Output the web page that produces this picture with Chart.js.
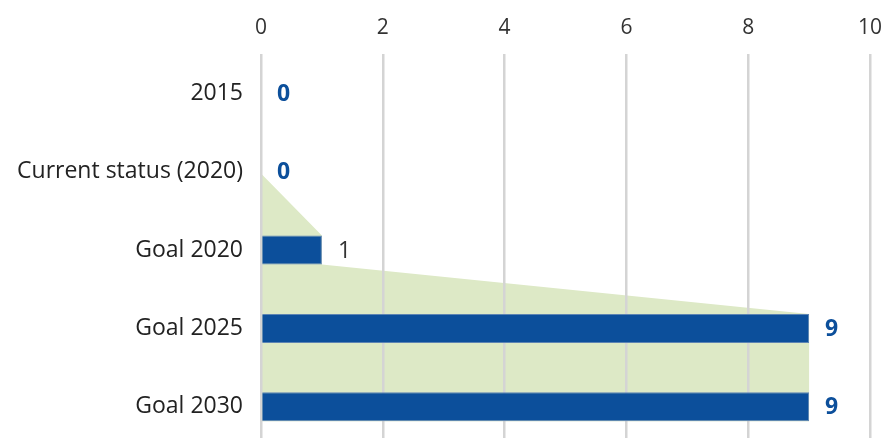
<!DOCTYPE html>
<html>
<head>
<meta charset="utf-8">
<script src="https://cdn.jsdelivr.net/npm/chart.js@4/dist/chart.umd.min.js"></script>
<style>
  html, body { margin: 0; padding: 0; background: #fff; overflow: hidden; }
</style>
</head>
<body>
<canvas id="goalChart" width="881" height="446"></canvas>
<script>
const categories = ['2015', 'Current status (2020)', 'Goal 2020', 'Goal 2025', 'Goal 2030'];
const values = [0, 0, 1, 9, 9];
const xTicks = [0, 2, 4, 6, 8, 10];

const BLUE = '#0c4f9b';
const GREEN = '#dde9c6';
const FONT = "'Open Sans', 'Noto Sans', sans-serif";

// green band joining the bars, drawn under the grid
const funnel = {
  id: 'funnel',
  beforeDraw(chart) {
    const bars = chart.getDatasetMeta(0).data;
    const x0 = chart.scales.x.getPixelForValue(0);
    const ctx = chart.ctx;
    ctx.save();
    ctx.fillStyle = GREEN;
    ctx.beginPath();
    ctx.moveTo(x0, bars[1].y + 2);
    for (let i = 2; i < bars.length; i++) {
      const b = bars[i];
      ctx.lineTo(b.x, b.y - b.height / 2);
      ctx.lineTo(b.x, b.y + b.height / 2);
    }
    const last = bars[bars.length - 1];
    ctx.lineTo(x0, last.y + last.height / 2);
    ctx.closePath();
    ctx.fill();
    ctx.restore();
  },
};

const valueLabels = {
  id: 'valueLabels',
  afterDatasetsDraw(chart) {
    const ctx = chart.ctx;
    const data = chart.data.datasets[0].data;
    ctx.save();
    ctx.textAlign = 'left';
    ctx.textBaseline = 'middle';
    chart.getDatasetMeta(0).data.forEach((bar, i) => {
      const plain = data[i] === 1;
      ctx.font = (plain ? '400 ' : '700 ') + '23px ' + FONT;
      ctx.fillStyle = plain ? '#333333' : BLUE;
      ctx.fillText(String(data[i]), bar.x + 16, bar.y + 1);
    });
    ctx.restore();
  },
};

new Chart(document.getElementById('goalChart'), {
  type: 'bar',
  data: {
    labels: categories,
    datasets: [
      {
        data: values,
        backgroundColor: BLUE,
        borderColor: '#5d84b3',
        borderWidth: 1,
        categoryPercentage: 1,
        barPercentage: 0.37,
      },
    ],
  },
  options: {
    indexAxis: 'y',
    responsive: false,
    animation: false,
    layout: { padding: 0 },
    plugins: { legend: { display: false }, tooltip: { enabled: false } },
    scales: {
      x: {
        position: 'top',
        min: 0,
        max: 10,
        afterBuildTicks: (scale) => {
          scale.ticks = xTicks.map((v) => ({ value: v }));
        },
        afterFit: (scale) => {
          scale.height = 54;
          scale.paddingLeft = 0;
          scale.paddingRight = 11;
        },
        ticks: {
          color: '#333333',
          font: { family: FONT, size: 21 },
          padding: 13,
        },
        grid: { color: '#d4d4d4', lineWidth: 2.5, drawTicks: false },
        border: { display: false },
      },
      y: {
        afterFit: (scale) => {
          scale.width = 261;
          scale.paddingTop = 0;
          scale.paddingBottom = 0;
        },
        ticks: {
          color: '#222222',
          font: { family: FONT, size: 23 },
          padding: 18,
        },
        grid: { display: false, drawTicks: false },
        border: { display: false },
      },
    },
  },
  plugins: [funnel, valueLabels],
});
</script>
</body>
</html>
